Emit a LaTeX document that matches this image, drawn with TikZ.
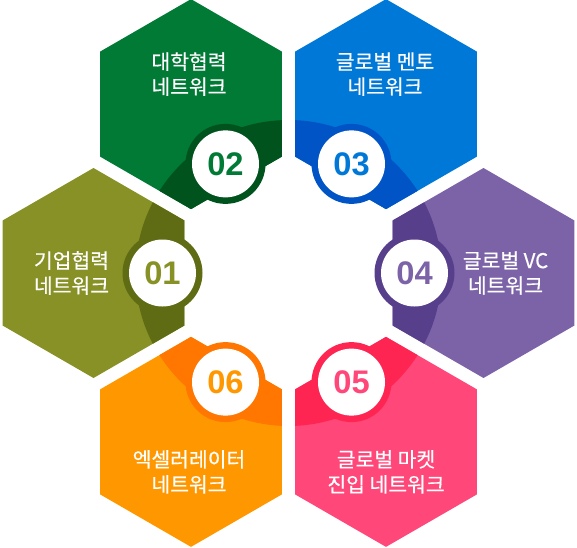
\documentclass[tikz,border=0pt]{standalone}
\usepackage{fontspec}
\usepackage{xcolor}
\usetikzlibrary{calc}
\newfontfamily\krfont[FakeBold=0.5]{Noto Sans CJK KR}
\newfontfamily\numfont{Liberation Sans}
\definecolor{oliveLight}{HTML}{879126}
\definecolor{oliveDark}{HTML}{606C14}
\definecolor{greenLight}{HTML}{017A36}
\definecolor{greenDark}{HTML}{00531D}
\definecolor{blueLight}{HTML}{0078D7}
\definecolor{blueDark}{HTML}{0054C6}
\definecolor{purpleLight}{HTML}{7C63A8}
\definecolor{purpleDark}{HTML}{573F8B}
\definecolor{pinkLight}{HTML}{FF4779}
\definecolor{pinkDark}{HTML}{FF2553}
\definecolor{orangeLight}{HTML}{FF9800}
\definecolor{orangeDark}{HTML}{FF7600}

\begin{document}
\begin{tikzpicture}[x=0.75pt, y=0.75pt,
    hexlabel/.style={text=white, align=center, inner sep=0pt,
      font=\krfont\fontsize{15.3}{18.75}\selectfont},
    numlabel/.style={inner sep=0pt, font=\numfont\bfseries\fontsize{24.5}{26}\selectfont}]
  \useasboundingbox (0,0) rectangle (577,547);
  \coordinate (mid) at (288.5,274);
  \foreach \n/\ang/\lc/\dc/\dx/\dy/\txt in {
      01/180/oliveLight/oliveDark/-22/0/{기업협력\\네트워크},
      02/120/greenLight/greenDark/-2/30/{대학협력\\네트워크},
      03/60/blueLight/blueDark/-1/30/{글로벌 멘토\\네트워크},
      04/0/purpleLight/purpleDark/22/0/{글로벌 VC\\네트워크},
      05/300/pinkLight/pinkDark/0/-30/{글로벌 마켓\\진입 네트워크},
      06/240/orangeLight/orangeDark/-2/-30/{엑셀러레이터\\네트워크}}
  {
    \coordinate (hex\n) at ($(mid)+(\ang:195)$);
    \coordinate (badge\n) at ($(mid)+(\ang:126)$);
    % hexagon with the darker band toward the middle
    \fill[\lc] (hex\n) +(90:105) -- +(150:105) -- +(210:105) -- +(270:105)
      -- +(330:105) -- +(30:105) -- cycle;
    \begin{scope}
      \clip (hex\n) +(90:105) -- +(150:105) -- +(210:105) -- +(270:105)
        -- +(330:105) -- +(30:105) -- cycle;
      \fill[\dc] (mid) circle (153);
    \end{scope}
    % number badge
    \fill[\dc] (badge\n) circle (40);
    \fill[white] (badge\n) circle (33.5);
    \node[numlabel, text=\lc] (num\n) at (badge\n) {\n};
    \node[hexlabel] (txt\n) at ($(hex\n)+(\dx,\dy)$) {\txt};
  }
\end{tikzpicture}
\end{document}
